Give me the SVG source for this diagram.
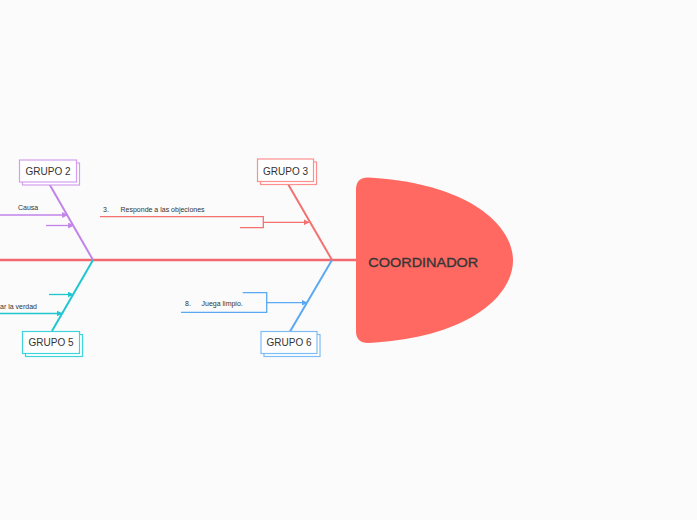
<svg xmlns="http://www.w3.org/2000/svg" width="697" height="520" viewBox="0 0 697 520">
<defs>
<style>
.box{fill:#fff;stroke-width:1.2}
.lbl{font-family:"Liberation Sans",Arial,sans-serif;font-size:10px;fill:#333;text-anchor:middle}
.sm{font-family:"Liberation Sans",Arial,sans-serif;font-size:7px;fill:#333}
.ln{fill:none;stroke-width:1.3}
</style>
<marker id="aR" viewBox="0 0 10 10" refX="9" refY="5" markerWidth="6" markerHeight="6" orient="auto" markerUnits="userSpaceOnUse"><path d="M0,0 L10,5 L0,10 Z" fill="#f4716f"/></marker>
<marker id="aB" viewBox="0 0 10 10" refX="9" refY="5" markerWidth="6" markerHeight="6" orient="auto" markerUnits="userSpaceOnUse"><path d="M0,0 L10,5 L0,10 Z" fill="#5aa9f2"/></marker>
<marker id="aP" viewBox="0 0 10 10" refX="9" refY="5" markerWidth="6" markerHeight="6" orient="auto" markerUnits="userSpaceOnUse"><path d="M0,0 L10,5 L0,10 Z" fill="#c283ea"/></marker>
<marker id="aC" viewBox="0 0 10 10" refX="9" refY="5" markerWidth="6" markerHeight="6" orient="auto" markerUnits="userSpaceOnUse"><path d="M0,0 L10,5 L0,10 Z" fill="#1fc6d0"/></marker>
</defs>
<rect width="697" height="520" fill="#fbfbfb"/>
<g id="connectors">
<line x1="0" y1="260" x2="358" y2="260" stroke="#f2686f" stroke-width="2.5"/>
<line x1="287.7" y1="183.5" x2="332" y2="260" stroke="#f4716f" stroke-width="2"/>
<line x1="332" y1="260" x2="290" y2="331.5" stroke="#5aa9f2" stroke-width="2"/>
<line x1="49" y1="183.5" x2="93" y2="260" stroke="#c283ea" stroke-width="2"/>
<line x1="93" y1="260" x2="52" y2="331" stroke="#1fc6d0" stroke-width="2"/>
<path class="ln" stroke="#f4716f" d="M100,216.7 H263.3 V227.7 H240"/>
<line class="ln" stroke="#f4716f" x1="263.3" y1="222.3" x2="309" y2="222.3" marker-end="url(#aR)"/>
<path class="ln" stroke="#5aa9f2" d="M242.7,292.7 H266.7 V312.3 H181"/>
<line class="ln" stroke="#5aa9f2" x1="266.7" y1="302.7" x2="307" y2="302.7" marker-end="url(#aB)"/>
<line class="ln" stroke="#c283ea" x1="0" y1="215" x2="67.5" y2="215" marker-end="url(#aP)"/>
<line class="ln" stroke="#c283ea" x1="46" y1="225.5" x2="73.5" y2="225.5" marker-end="url(#aP)"/>
<line class="ln" stroke="#1fc6d0" x1="49" y1="294.5" x2="73" y2="294.5" marker-end="url(#aC)"/>
<line class="ln" stroke="#1fc6d0" x1="0" y1="313.5" x2="62" y2="313.5" marker-end="url(#aC)"/>
</g>
<g id="labels">
<text class="sm" x="103" y="211.5">3.</text>
<text class="sm" x="120.5" y="211.5">Responde a las objeciones</text>
<text class="sm" x="185" y="306">8.</text>
<text class="sm" x="201.5" y="306">Juega limpio.</text>
<text class="sm" x="18" y="209.5">Causa</text>
<text class="sm" x="0" y="308.5">ar la verdad</text>
</g>
<g id="coordinador">
<path d="M368,177.5 C470,183 513,226 513,260.5 C513,295 470,338 368,343 Q356,343 356,331 L356,189.5 Q356,177.5 368,177.5 Z" fill="#ff6961"/>
<text x="368.3" y="266.5" font-family="'Liberation Sans',Arial,sans-serif" font-size="13.5" fill="#363636" stroke="#363636" stroke-width="0.35" textLength="110" lengthAdjust="spacingAndGlyphs">COORDINADOR</text>
</g>
<g id="grupo3">
<rect class="box" x="260.5" y="162" width="56" height="22.5" stroke="#ff8f8f"/>
<rect class="box" x="257.5" y="159" width="56" height="22.5" stroke="#ff8f8f"/>
<text class="lbl" x="285.5" y="174.5">GRUPO 3</text>
</g>
<g id="grupo6">
<rect class="box" x="264" y="334.5" width="56" height="22" stroke="#7dbcf5"/>
<rect class="box" x="261" y="331.5" width="56" height="22" stroke="#7dbcf5"/>
<text class="lbl" x="289" y="346">GRUPO 6</text>
</g>
<g id="grupo2">
<rect class="box" x="22.5" y="163" width="57" height="22" stroke="#d49df0"/>
<rect class="box" x="19.5" y="160" width="57" height="22" stroke="#d49df0"/>
<text class="lbl" x="48" y="174.5">GRUPO 2</text>
</g>
<g id="grupo5">
<rect class="box" x="25.5" y="334.5" width="57" height="22" stroke="#3fd3da"/>
<rect class="box" x="22.5" y="331.5" width="57" height="22" stroke="#3fd3da"/>
<text class="lbl" x="51" y="346">GRUPO 5</text>
</g>
</svg>
